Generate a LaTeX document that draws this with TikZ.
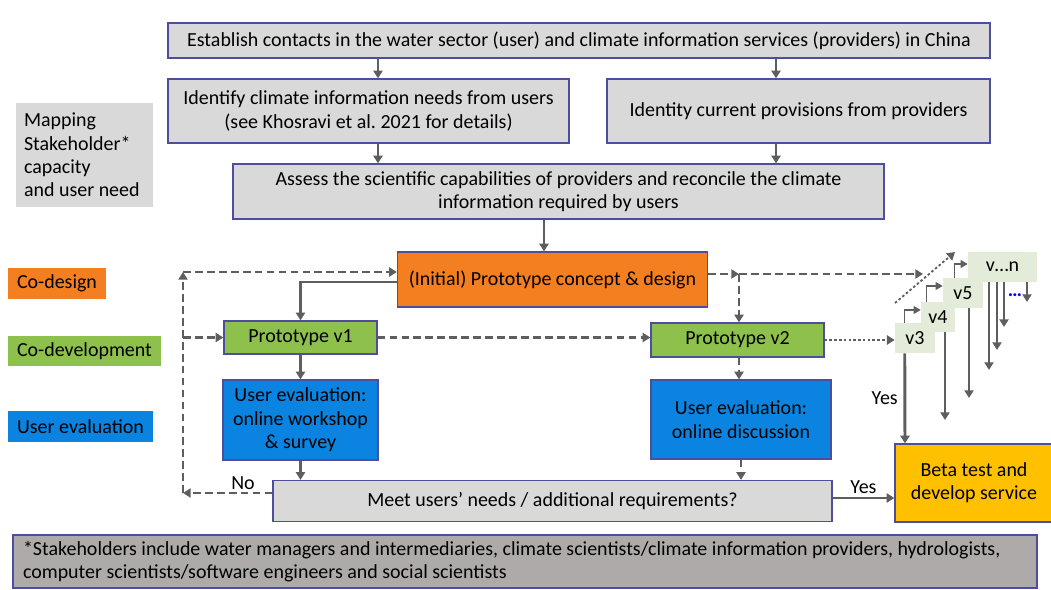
\documentclass[tikz,border=0pt]{standalone}
\usepackage{fontspec}
\setmainfont{Carlito}
\usepackage{tikz}
\usetikzlibrary{arrows.meta, calc}
\definecolor{boxgray}{HTML}{D9D9D9}
\definecolor{notegray}{HTML}{AFAAAA}
\definecolor{edgeblue}{HTML}{4E4E9E}
\definecolor{codesign}{HTML}{F47F20}
\definecolor{codev}{HTML}{8DC14B}
\definecolor{userev}{HTML}{0A84E0}
\definecolor{beta}{HTML}{FFC000}
\definecolor{verpale}{HTML}{E2ECD9}
\definecolor{arrowgray}{HTML}{5E5E5E}
\tikzset{
  box/.style={draw=edgeblue, line width=0.9pt, fill=boxgray, inner sep=0pt, align=center},
  tag/.style={inner sep=0pt, align=center},
  ver/.style={fill=verpale, inner sep=0pt, minimum width=40*0.025cm, minimum height=30*0.025cm},
  flow/.style={draw=arrowgray, line width=2.1pt, -{Triangle[length=5.5pt,width=6.5pt]}},
  dashflow/.style={flow, dash pattern=on 5.5pt off 3pt},
  dotflow/.style={flow, line width=1.8pt, dash pattern=on 1.8pt off 1.6pt},
  thinflow/.style={draw=arrowgray, line width=1pt, -{Triangle[length=5pt,width=5.5pt]}},
}

\begin{document}
\begin{tikzpicture}[x=0.025cm, y=-0.025cm, font=\fontsize{14.2}{16.6}\selectfont]
\useasboundingbox (0,0) rectangle (1051,590);
\begin{scope}[every node/.style={box}]
  \node[minimum width=822*0.025cm, minimum height=35*0.025cm] (contacts) at (579,40.5)
    {Establish contacts in the water sector (user) and climate information services (providers) in China};
  \node[minimum width=401*0.025cm, minimum height=64*0.025cm] (needs) at (368.5,111)
    {Identify climate information needs from users\\(see Khosravi et al.\ 2021 for details)};
  \node[minimum width=383*0.025cm, minimum height=64*0.025cm] (provide) at (798.5,111)
    {Identity current provisions from providers};
  \node[minimum width=651*0.025cm, minimum height=55*0.025cm] (assess) at (558.5,191.5)
    {Assess the scientific capabilities of providers and reconcile the climate\\information required by users};
  \node[fill=codesign, minimum width=310*0.025cm, minimum height=55*0.025cm] (concept) at (552.5,279.5)
    {(Initial) Prototype concept \& design};
  \node[fill=codev, minimum width=153*0.025cm, minimum height=33*0.025cm] (v1) at (300.5,337.5)
    {Prototype v1};
  \node[fill=codev, minimum width=173*0.025cm, minimum height=34*0.025cm] (v2) at (737.5,340)
    {Prototype v2};
  \node[fill=userev, minimum width=155*0.025cm, minimum height=80*0.025cm] (evalA) at (300.5,420)
    {User evaluation:\\online workshop\\\& survey};
  \node[fill=userev, minimum width=180*0.025cm, minimum height=79*0.025cm] (evalB) at (741,419.5)
    {User evaluation:\\online discussion};
  \node[minimum width=559*0.025cm, minimum height=41*0.025cm] (meet) at (552.5,501)
    {Meet users’ needs / additional requirements?};
  \node[fill=beta, minimum width=158*0.025cm, minimum height=78*0.025cm] (service) at (974,483)
    {Beta test and\\develop service};
  \node[fill=notegray, minimum width=1024*0.025cm, minimum height=53*0.025cm, text width=1004*0.025cm, align=flush left] (note) at (525,561.5)
    {*Stakeholders include water managers and intermediaries, climate scientists/climate information providers, hydrologists,\\computer scientists/software engineers and social scientists};
\end{scope}
\begin{scope}[every node/.style={tag}]
  \node[fill=boxgray, minimum width=137*0.025cm, minimum height=104*0.025cm, text width=121*0.025cm, align=flush left] (mapping) at (84.5,155)
    {Mapping\\Stakeholder*\\capacity\\and user need};
  \node[fill=codesign, minimum width=98*0.025cm, minimum height=31*0.025cm] (lcodesign) at (57,283.5) {Co-design};
  \node[fill=codev, minimum width=153*0.025cm, minimum height=30*0.025cm] (lcodev) at (84.5,351) {Co-development};
  \node[fill=userev, minimum width=145*0.025cm, minimum height=31*0.025cm] (luserev) at (80.5,426.5) {User evaluation};
\end{scope}
\begin{scope}[every node/.style={ver}]
  \node[minimum width=69*0.025cm] (vn) at (1002.5,267) {v…n};
  \node (v5) at (963,293) {v5};
  \node[minimum width=34*0.025cm] (v4) at (938,317) {v4};
  \node (v3) at (915,338) {v3};
\end{scope}
\coordinate (loopb) at (183,493);
\coordinate (loopt) at (183,272);
\coordinate (split) at (739,274);
\coordinate (fan) at (923,274);
\coordinate (diagA) at (895,303);
\coordinate (diagB) at (955,252);
% top part of the chain
\draw[flow] (contacts.south -| 378,0) -- (needs.north -| 378,0);
\draw[flow] (contacts.south -| 776,0) -- (provide.north -| 776,0);
\draw[flow] (needs.south -| 378,0) -- (assess.north -| 378,0);
\draw[flow] (provide.south -| 776,0) -- (assess.north -| 776,0);
\draw[flow] (assess.south -| 544,0) -- (concept.north -| 544,0);
% prototype loop
\draw[flow] (concept.west |- 0,282) -| (v1.north);
\draw[flow] (v1) -- (evalA);
\draw[flow] (evalA) -- (meet.north -| evalA);
\draw[dashflow] (v1.east) -- (v2.west |- v1.east);
\draw[dashflow] (concept.east |- split) -- (split);
\draw[dashflow] (split) -- (v2.north -| split);
\draw[dashflow] (split) -- (fan);
\draw[dashflow] (v2.south -| split) -- (evalB.north -| split);
\draw[dashflow] (evalB.south -| 741,0) -- (meet.north -| 741,0);
\draw[dashflow] (meet.west |- loopb) -- (loopb);
\draw[dashflow] (loopb) -- (loopt);
\draw[dashflow] (loopt) -- (concept.west |- loopt);
\draw[dashflow] (loopb |- v1) -- (v1.west);
\node[tag] (no) at (243,483) {No};
\draw[flow] (meet.east |- 0,498) -- (service.west |- 0,498) node[tag, midway, above=2pt] (yesA) {Yes};
% later versions
\draw[dotflow] (v2.east) -- (v3.west |- v2.east);
\draw[dotflow, line width=1.3pt] (diagA) -- (diagB);
\draw[thinflow] ($(v3.north west)+(10,0)$) |- ($(v4.west)+(0,-7)$);
\draw[thinflow] ($(v4.north west)+(6,0)$) |- ($(v5.west)+(0,-7)$);
\draw[thinflow] ($(v5.north west)+(12,0)$) |- ($(vn.west)+(0,-3)$);
\draw[flow] ($(v3.south west)+(10,0)$) -- (service.north -| 905,0) node[tag, midway, left=4pt] (yesB) {Yes};
\draw[flow] (v4.south -| 945,0) -- (945,420);
\draw[flow] (v5.south -| 969,0) -- (969,398);
\draw[flow] (vn.south -| 989,0) -- (989,370);
\draw[flow] (vn.south -| 997,0) -- (997,350);
\draw[flow] (vn.south -| 1004,0) -- (1004,327);
\draw[flow] (vn.south -| 1027,0) -- (1027,302);
\node[tag, text=blue] (more) at (1015,295) {\textbf{…}};
\end{tikzpicture}
\end{document}
